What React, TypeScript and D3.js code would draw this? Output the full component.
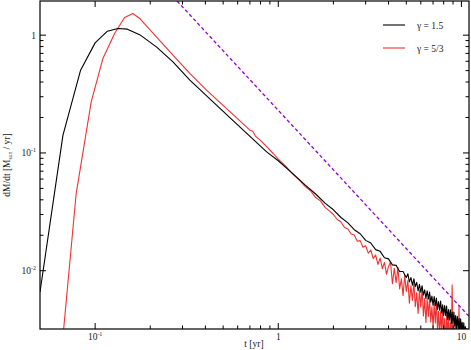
import React from "react";
import * as d3 from "d3";

const W = 471;
const H = 350;
const M = { left: 40, right: 2, top: 1, bottom: 21 };

// gamma = 1.5 : time [yr] and dM/dt [Msun/yr]
const blackTime = [
  0.05, 0.0667, 0.0833, 0.1, 0.1167, 0.1333, 0.15, 0.175, 0.216, 0.266, 0.329, 0.544, 0.864,
  1.0, 1.2, 1.4, 1.6, 1.8, 2.0, 2.2, 2.4, 2.6, 2.8, 3.0, 3.2, 3.4, 3.6, 3.8, 4.0, 4.2, 4.4, 4.6, 4.8, 5.0,
  5.1, 5.2, 5.3, 5.4, 5.5, 5.6, 5.7, 5.8, 5.9, 6.0, 6.1, 6.2, 6.3, 6.4, 6.5, 6.6, 6.7, 6.8, 6.9, 7.0,
  7.1, 7.2, 7.3, 7.4, 7.5, 7.6, 7.7, 7.8, 7.9, 8.0, 8.1, 8.2, 8.3, 8.4, 8.5, 8.6, 8.7, 8.8, 8.9, 9.0,
  9.1, 9.2, 9.3, 9.4, 9.5, 9.6, 9.7, 9.8, 9.9, 10.0, 10.1, 10.2, 10.3, 10.4, 10.5, 10.6, 10.7, 10.8, 10.9, 11.0,
];
const blackRate = [
  0.0066, 0.141, 0.504, 0.86, 1.08, 1.14, 1.125, 1.01, 0.796, 0.593, 0.415, 0.1995, 0.102,
  0.0858, 0.0668, 0.0535, 0.0448, 0.0375, 0.0329, 0.0283, 0.0255, 0.0223, 0.0206, 0.0181, 0.0172, 0.0151, 0.0146, 0.0129, 0.0126, 0.0112, 0.0111, 0.00985, 0.00985, 0.00875,
  0.00941, 0.00804, 0.00874, 0.00754, 0.00853, 0.00732, 0.00797, 0.00675, 0.00766, 0.00658, 0.00746, 0.00621, 0.00687, 0.00581, 0.00675, 0.00575, 0.00659, 0.0054, 0.0061, 0.00508,
  0.00603, 0.00505, 0.00585, 0.0047, 0.00548, 0.00463, 0.00553, 0.00437, 0.00514, 0.00417, 0.00506, 0.00416, 0.00502, 0.00385, 0.00469, 0.00381, 0.00466, 0.00356, 0.00443, 0.00357,
  0.00446, 0.00339, 0.00417, 0.00321, 0.00411, 0.00322, 0.00393, 0.00305, 0.00391, 0.00308, 0.00364, 0.00293, 0.00361, 0.00282, 0.00336, 0.00284, 0.00323, 0.0027, 0.00303, 0.00269,
];

// gamma = 5/3
const redTime = [
  0.062, 0.0788, 0.0952, 0.1103, 0.1277, 0.1448, 0.1608, 0.175, 0.216, 0.266, 0.3286, 0.4055, 0.544, 0.7, 0.725, 0.75, 0.8, 0.939,
  1.0, 1.1, 1.2, 1.3, 1.4, 1.5, 1.6, 1.7, 1.8, 1.9, 2.0, 2.1, 2.2, 2.3, 2.4, 2.5, 2.6, 2.7, 2.8, 2.9, 3.0,
  3.1, 3.2, 3.3, 3.4, 3.5, 3.6, 3.7, 3.8, 3.9, 4.0, 4.1, 4.2, 4.3, 4.4, 4.5, 4.6, 4.7, 4.8, 4.9, 5.0,
  5.1, 5.2, 5.3, 5.4, 5.5, 5.6, 5.7, 5.8, 5.9, 6.0, 6.1, 6.2, 6.3, 6.4, 6.5, 6.6, 6.7, 6.8, 6.9, 7.0,
  7.1, 7.2, 7.3, 7.4, 7.5, 7.6, 7.7, 7.8, 7.9, 8.0, 8.1, 8.2, 8.3, 8.4, 8.5, 8.6, 8.7, 8.8, 8.9, 9.0,
  9.1, 9.2, 9.3, 9.4, 9.5, 9.6, 9.7, 9.8, 9.9, 10.0, 10.1, 10.2, 10.3, 10.4, 10.5, 10.6, 10.7, 10.8, 10.9, 11.0,
];
const redRate = [
  0.0008, 0.0452, 0.271, 0.634, 1.034, 1.414, 1.528, 1.386, 0.967, 0.676, 0.473, 0.341, 0.224, 0.156, 0.153, 0.139, 0.128, 0.0989,
  0.0885, 0.077, 0.066, 0.059, 0.052, 0.0478, 0.0418, 0.0392, 0.0345, 0.0322, 0.03, 0.0272, 0.0259, 0.0233, 0.0226, 0.0205, 0.0201, 0.0178, 0.018, 0.0158, 0.0163,
  0.0141, 0.015, 0.0127, 0.0136, 0.0113, 0.0128, 0.0104, 0.01175, 0.00935, 0.01087, 0.01186, 0.00775, 0.01047, 0.00793, 0.01063, 0.00699, 0.00855, 0.00615, 0.00916, 0.00666,
  0.00825, 0.00529, 0.00743, 0.00558, 0.00798, 0.00496, 0.00651, 0.00434, 0.00686, 0.00491, 0.00706, 0.00413, 0.00579, 0.00363, 0.00582, 0.00409, 0.00592, 0.00367, 0.00494, 0.00329,
  0.00523, 0.00361, 0.00555, 0.00314, 0.00453, 0.00278, 0.00455, 0.00304, 0.00473, 0.00271, 0.00392, 0.0024, 0.00421, 0.00265, 0.00455, 0.00236, 0.00361, 0.00253, 0.00758, 0.00232,
  0.00352, 0.00216, 0.00382, 0.00222, 0.00301, 0.00194, 0.00504, 0.00209, 0.00334, 0.00189, 0.00285, 0.00195, 0.00325, 0.00201, 0.00257, 0.00205, 0.00238, 0.00196, 0.00229, 0.0019,
];

// t^-5/3 reference line
const refTime = [0.28, 11];
const refRate = [1.95, 0.0041];

const xMajor = [0.1, 1, 10];
const yMajor = [0.01, 0.1, 1];
const legendLabels = ["\u03b3 = 1.5", "\u03b3 = 5/3"];
const legendColors = ["#000000", "#f03232"];

const FONT = "Liberation Serif, Times New Roman, serif";

function powLabel(v: number) {
  const e = Math.round(Math.log10(v));
  if (e === 0) return { base: "1", sup: "" };
  if (e === 1) return { base: "10", sup: "" };
  return { base: "10", sup: String(e) };
}

export default function App() {
  const x = d3.scaleLog().domain([0.05, 11]).range([M.left, W - M.right]);
  const y = d3.scaleLog().domain([0.0032, 1.95]).range([H - M.bottom, M.top]);
  const x0 = M.left, x1 = W - M.right, y0 = H - M.bottom, y1 = M.top;

  const line = d3
    .line<[number, number]>()
    .x((d) => x(d[0]))
    .y((d) => y(d[1]));

  const black = blackTime.map((t, i) => [t, blackRate[i]] as [number, number]);
  const red = redTime.map((t, i) => [t, redRate[i]] as [number, number]);
  const ref = refTime.map((t, i) => [t, refRate[i]] as [number, number]);

  const minorBetween = (majors: number[]) => {
    const out: number[] = [];
    for (let i = 0; i < majors.length - 1; i++)
      for (let k = 2; k <= 9; k++) out.push(majors[i] * k);
    return out;
  };
  const xMinor = minorBetween(xMajor);
  const yMinor = minorBetween(yMajor);

  const majLen = 6, minLen = 3.5;

  return (
    <svg
      width={W}
      height={H}
      style={{ position: "absolute", left: 0, top: 0, background: "#fff" }}
      fontFamily={FONT}
    >
      <defs>
        <clipPath id="plot">
          <rect x={x0} y={y1} width={x1 - x0} height={y0 - y1} />
        </clipPath>
      </defs>
      <rect x={0} y={0} width={W} height={H} fill="#fff" />

      <g clipPath="url(#plot)" fill="none">
        <path d={line(ref) || ""} stroke="#9400d3" strokeWidth={1.3} strokeDasharray="3.5,2.5" />
        <path d={line(red) || ""} stroke={legendColors[1]} strokeWidth={1.1} strokeLinejoin="round" />
        <path d={line(black) || ""} stroke={legendColors[0]} strokeWidth={1.1} strokeLinejoin="round" />
      </g>

      {/* ticks, mirrored, pointing inward */}
      <g stroke="#000" strokeWidth={1}>
        {xMajor.map((t) => (
          <g key={"xM" + t}>
            <line x1={x(t)} x2={x(t)} y1={y0} y2={y0 - majLen} />
            <line x1={x(t)} x2={x(t)} y1={y1} y2={y1 + majLen} />
          </g>
        ))}
        {xMinor.map((t) => (
          <g key={"xm" + t}>
            <line x1={x(t)} x2={x(t)} y1={y0} y2={y0 - minLen} />
            <line x1={x(t)} x2={x(t)} y1={y1} y2={y1 + minLen} />
          </g>
        ))}
        {yMajor.map((v) => (
          <g key={"yM" + v}>
            <line x1={x0} x2={x0 + majLen} y1={y(v)} y2={y(v)} />
            <line x1={x1} x2={x1 - majLen} y1={y(v)} y2={y(v)} />
          </g>
        ))}
        {yMinor.map((v) => (
          <g key={"ym" + v}>
            <line x1={x0} x2={x0 + minLen} y1={y(v)} y2={y(v)} />
            <line x1={x1} x2={x1 - minLen} y1={y(v)} y2={y(v)} />
          </g>
        ))}
      </g>
      <rect x={x0} y={y1} width={x1 - x0} height={y0 - y1} fill="none" stroke="#000" strokeWidth={1.2} />

      {/* tick labels */}
      <g fontSize={9.5} fill="#222">
        {xMajor.map((t) => {
          const l = powLabel(t);
          return (
            <text key={"xl" + t} x={x(t)} y={y0 + 11} textAnchor="middle">
              {l.base}
              {l.sup && (
                <tspan dy={-4} fontSize={6}>
                  {l.sup}
                </tspan>
              )}
            </text>
          );
        })}
        {yMajor.map((v) => {
          const l = powLabel(v);
          return (
            <text key={"yl" + v} x={x0 - 4} y={y(v) + 3.5} textAnchor="end">
              {l.base}
              {l.sup && (
                <tspan dy={-4} fontSize={6}>
                  {l.sup}
                </tspan>
              )}
            </text>
          );
        })}
      </g>

      {/* axis titles */}
      <text x={254} y={347} fontSize={9.5} textAnchor="middle" fill="#222">
        t [yr]
      </text>
      <text
        transform={`translate(10,${(y0 + y1) / 2}) rotate(-90)`}
        fontSize={9.5}
        textAnchor="middle"
        fill="#222"
      >
        dM/dt [M
        <tspan dy={2} fontSize={5.5}>
          sun
        </tspan>
        <tspan dy={-2}> / yr]</tspan>
      </text>

      {/* legend */}
      {legendLabels.map((lab, i) => (
        <g key={lab} transform={`translate(0,${25 + i * 23})`}>
          <line x1={383} x2={405} y1={0} y2={0} stroke={legendColors[i]} strokeWidth={1.1} />
          <text x={417} y={3.5} fontSize={9.5} fill="#222">
            {lab}
          </text>
        </g>
      ))}
    </svg>
  );
}
